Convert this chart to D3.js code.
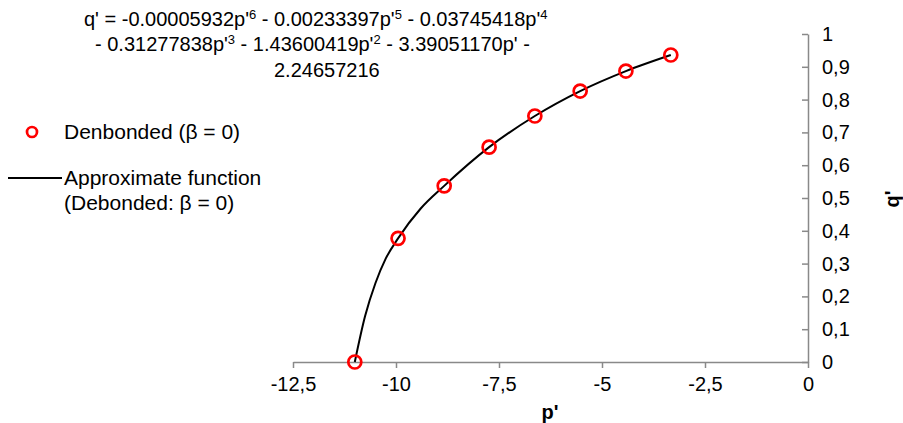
<!DOCTYPE html>
<html>
<head>
<meta charset="utf-8">
<script src="https://cdn.jsdelivr.net/npm/d3@7"></script>
<style>
  body { margin: 0; background: #fff; }
  svg { font-family: "Liberation Sans", Arial, sans-serif; }
</style>
</head>
<body>
<script>
// measured points (Debonded, beta = 0)
const pPoints = [-11.0, -9.95, -8.83, -7.74, -6.63, -5.53, -4.42, -3.33];
const qPoints = [0, 0.377, 0.537, 0.655, 0.750, 0.826, 0.887, 0.936];

// approximate function
const pLine = [-11.0, -10.75, -10.5, -10.25, -9.95, -9.4, -8.83, -7.74, -6.63, -5.53, -4.42, -3.33];
const qLine = [0, 0.14, 0.24, 0.315, 0.377, 0.468, 0.537, 0.655, 0.750, 0.826, 0.887, 0.936];

const xTicks = [-12.5, -10, -7.5, -5, -2.5, 0];
const yTicks = [0, 0.1, 0.2, 0.3, 0.4, 0.5, 0.6, 0.7, 0.8, 0.9, 1];

const width = 903, height = 423;
const fs = 20;
const fmt = d => String(d).replace(".", ",");

let svg = d3.select("body").append("svg")
    .attr("width", width)
    .attr("height", height);

let x = d3.scaleLinear().domain([-12.5, 0]).range([293, 808]);
let y = d3.scaleLinear().domain([0, 1]).range([362, 34]);

const axisColor = "#898989";

// x axis
let xAxis = svg.append("g")
    .attr("transform", "translate(0," + y(0) + ")")
    .call(d3.axisBottom(x).tickValues(xTicks).tickFormat(fmt).tickSize(6).tickSizeOuter(0));
xAxis.select(".domain").attr("stroke", axisColor).attr("stroke-width", 1.5);
xAxis.selectAll(".tick line").attr("stroke", axisColor).attr("stroke-width", 1.5);
xAxis.selectAll(".tick text")
    .attr("fill", "#000")
    .attr("font-size", fs)
    .attr("font-family", "Liberation Sans, Arial, sans-serif")
    .attr("dy", "0.71em")
    .attr("y", 15);

// y axis (on the right, ticks pointing left, labels to the right)
let yAxis = svg.append("g")
    .attr("transform", "translate(" + x(0) + ",0)")
    .call(d3.axisLeft(y).tickValues(yTicks).tickFormat(fmt).tickSize(6).tickSizeOuter(0));
yAxis.select(".domain").attr("stroke", axisColor).attr("stroke-width", 1.5);
yAxis.selectAll(".tick line").attr("stroke", axisColor).attr("stroke-width", 1.5);
yAxis.selectAll(".tick text")
    .attr("fill", "#000")
    .attr("font-size", fs)
    .attr("font-family", "Liberation Sans, Arial, sans-serif")
    .attr("text-anchor", "start")
    .attr("x", 14);

// axis titles
svg.append("text")
    .attr("x", 550).attr("y", 419)
    .attr("text-anchor", "middle")
    .attr("font-size", fs).attr("font-weight", "bold")
    .text("p'");

svg.append("text")
    .attr("transform", "translate(899,199) rotate(-90)")
    .attr("text-anchor", "middle")
    .attr("font-size", fs).attr("font-weight", "bold")
    .text("q'");

// fitted line
let line = d3.line()
    .x((d, i) => x(pLine[i]))
    .y(d => y(d))
    .curve(d3.curveMonotoneX);

svg.append("path")
    .datum(qLine)
    .attr("fill", "none")
    .attr("stroke", "#000")
    .attr("stroke-width", 2)
    .attr("d", line);

// markers
svg.selectAll("circle.pt")
    .data(qPoints)
    .join("circle")
    .attr("class", "pt")
    .attr("cx", (d, i) => x(pPoints[i]))
    .attr("cy", d => y(d))
    .attr("r", 6.5)
    .attr("fill", "none")
    .attr("stroke", "#ff0000")
    .attr("stroke-width", 2.7);

// equation
const eqLines = [
    {x: 84, y: 26, parts: [["q' = -0.00005932p'", ""], ["6", "sup"], [" - 0.00233397p'", ""], ["5", "sup"], [" - 0.03745418p'", ""], ["4", "sup"]]},
    {x: 95, y: 51, parts: [["- 0.31277838p'", ""], ["3", "sup"], [" - 1.43600419p'", ""], ["2", "sup"], [" - 3.39051170p' -", ""]]},
    {x: 274, y: 77, parts: [["2.24657216", ""]]}
];

eqLines.forEach(l => {
    let t = svg.append("text")
        .attr("x", l.x).attr("y", l.y)
        .attr("font-size", fs)
        .attr("fill", "#000");
    l.parts.forEach(p => {
        let s = t.append("tspan").text(p[0]);
        if (p[1] === "sup") {
            s.attr("font-size", 13).attr("dy", -7);
        } else if (t.selectAll("tspan").size() > 1) {
            s.attr("dy", 7);
        }
    });
});

// legend
let legend = svg.append("g").attr("font-size", 21);

legend.append("circle")
    .attr("cx", 32).attr("cy", 132).attr("r", 5)
    .attr("fill", "none").attr("stroke", "#ff0000").attr("stroke-width", 2.7);
legend.append("text").attr("x", 64).attr("y", 139).text("Denbonded (β = 0)");

legend.append("line")
    .attr("x1", 8).attr("x2", 62).attr("y1", 178).attr("y2", 178)
    .attr("stroke", "#000").attr("stroke-width", 2);
legend.append("text").attr("x", 64).attr("y", 185).text("Approximate function");
legend.append("text").attr("x", 64).attr("y", 210).text("(Debonded: β = 0)");
</script>
</body>
</html>
